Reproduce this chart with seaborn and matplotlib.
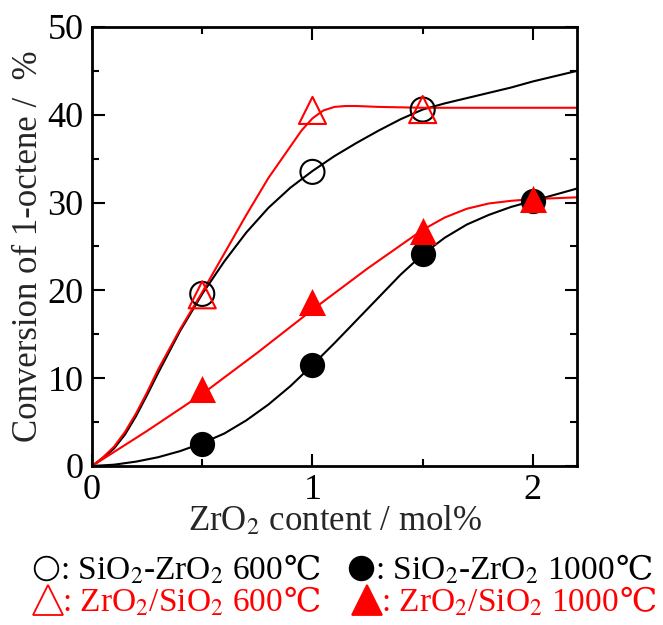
import numpy as np
import pandas as pd
import matplotlib
matplotlib.use("Agg")
import matplotlib.pyplot as plt
import seaborn as sns
from matplotlib.lines import Line2D
from matplotlib.ticker import MultipleLocator

# measured points
x_pts = [0.5, 1.0, 1.5, 2.0]
sz600 = [19.6, 33.5, 40.6, None]        # SiO2-ZrO2 600C (open circle)
sz1000 = [2.5, 11.5, 24.2, 30.2]        # SiO2-ZrO2 1000C (filled circle)
zs600 = [19.5, 40.5, 40.6, None]        # ZrO2/SiO2 600C (open triangle)
zs1000 = [8.8, 18.7, 26.8, 30.4]        # ZrO2/SiO2 1000C (filled triangle)

# fitted curves
sz600_cx = [0, 0.05, 0.1, 0.15, 0.2, 0.25, 0.3, 0.4, 0.5, 0.6, 0.7, 0.8, 0.9,
            1.0, 1.1, 1.2, 1.3, 1.4, 1.5, 1.6, 1.7, 1.8, 1.9, 2.0, 2.1, 2.2]
sz600_cy = [0, 0.9, 2.0, 3.6, 5.7, 8.1, 10.6, 15.4, 19.6, 23.3, 26.6, 29.4,
            31.7, 33.6, 35.3, 36.8, 38.2, 39.5, 40.6, 41.3, 41.9, 42.5, 43.1,
            43.8, 44.4, 45.0]
sz1000_cx = [0, 0.1, 0.2, 0.3, 0.4, 0.5, 0.6, 0.7, 0.8, 0.9, 1.0, 1.1, 1.2, 1.3,
             1.4, 1.5, 1.6, 1.7, 1.8, 1.9, 2.0, 2.1, 2.2]
sz1000_cy = [0, 0.15, 0.5, 1.0, 1.7, 2.6, 3.7, 5.2, 7.0, 9.1, 11.5, 14.0, 16.6,
             19.2, 21.8, 24.1, 26.0, 27.5, 28.6, 29.5, 30.2, 30.9, 31.6]
zs600_cx = [0, 0.05, 0.1, 0.15, 0.2, 0.25, 0.3, 0.4, 0.5, 0.6, 0.7, 0.8, 0.9,
            0.95, 1.0, 1.05, 1.1, 1.15, 1.2, 1.3, 1.5, 1.8, 2.2]
zs600_cy = [0, 1.0, 2.2, 3.9, 6.0, 8.4, 11.0, 15.6, 19.8, 24.2, 28.6, 32.8,
            36.4, 38.2, 39.6, 40.5, 40.9, 41.0, 41.0, 40.9, 40.8, 40.8, 40.8]
zs1000_cx = [0, 0.25, 0.5, 0.75, 1.0, 1.25, 1.5, 1.6, 1.7, 1.8, 1.9, 2.0, 2.2]
zs1000_cy = [0, 4.0, 8.2, 12.9, 17.8, 22.5, 26.9, 28.3, 29.3, 29.9, 30.2, 30.4,
             30.6]

# legend rows: formula, temperature
legend_labels = [
    ("SiO$_2$-ZrO$_2$", "600"),
    ("SiO$_2$-ZrO$_2$", "1000"),
    ("ZrO$_2$/SiO$_2$", "600"),
    ("ZrO$_2$/SiO$_2$", "1000"),
]

sns.set_style("ticks")
plt.rcParams["font.family"] = ["Liberation Serif", "DejaVu Serif"]
plt.rcParams["mathtext.fontset"] = "stix"

fig = plt.figure(figsize=(6.63, 6.25), dpi=100)
ax = fig.add_axes([0.1388, 0.2544, 0.7315, 0.7024])

# curves
curves = [
    (sz600_cx, sz600_cy, "black"),
    (sz1000_cx, sz1000_cy, "black"),
    (zs600_cx, zs600_cy, "red"),
    (zs1000_cx, zs1000_cy, "red"),
]
for cx, cy, col in curves:
    sns.lineplot(x=cx, y=cy, color=col, lw=1.5, ax=ax, sort=False,
                 estimator=None, zorder=2)

# markers
pts = pd.DataFrame({"x": x_pts, "sz600": sz600, "sz1000": sz1000,
                    "zs600": zs600, "zs1000": zs1000})
sns.scatterplot(data=pts, x="x", y="sz600", marker="o", s=300,
                facecolor="none", edgecolor="black", linewidth=1.5, ax=ax, zorder=3)
sns.scatterplot(data=pts, x="x", y="sz1000", marker="o", s=330,
                color="black", edgecolor="black", linewidth=0, ax=ax, zorder=3)
sns.scatterplot(data=pts, x="x", y="zs600", marker="^", s=380,
                facecolor="none", edgecolor="red", linewidth=1.5, ax=ax, zorder=4)
sns.scatterplot(data=pts, x="x", y="zs1000", marker="^", s=380,
                color="red", edgecolor="red", linewidth=0, ax=ax, zorder=4)

ax.set_xlim(0, 2.2)
ax.set_ylim(0, 50)
ax.xaxis.set_major_locator(MultipleLocator(1))
ax.xaxis.set_minor_locator(MultipleLocator(0.5))
ax.yaxis.set_major_locator(MultipleLocator(10))
ax.yaxis.set_minor_locator(MultipleLocator(5))
ax.tick_params(which="both", direction="in", top=True, right=True,
               width=1.5, labelsize=26, colors="black")
ax.tick_params(which="major", length=9, pad=6)
ax.tick_params(which="minor", length=5)
for sp in ax.spines.values():
    sp.set_linewidth(2)
    sp.set_color("black")

ax.set_xlabel("ZrO$_2$ content / mol%", fontsize=25, labelpad=-2)
ax.set_ylabel("Conversion of 1-octene /  %", fontsize=25, labelpad=2)

# legend below the axes: marker, then text pieces on a common baseline
fs = 24
renderer = fig.canvas.get_renderer()
W, H = fig.get_size_inches() * fig.dpi


def legend_entry(xc_px, base_px, marker, filled, col, formula, temp):
    fig.add_artist(Line2D([xc_px / W], [1 - (base_px - 11) / H],
                          transform=fig.transFigure, marker=marker,
                          markersize=17 if marker == "o" else 21,
                          markerfacecolor=col if filled else "none",
                          markeredgecolor=col, markeredgewidth=1.3,
                          linestyle="none"))
    x = (xc_px + 14) / W
    yb = 1 - base_px / H
    for piece in [": " + formula + " " + temp, "℃"]:
        t = fig.text(x, yb, piece, fontsize=fs, color=col, va="baseline")
        x = fig.transFigure.inverted().transform(
            (t.get_window_extent(renderer).x1 + 1, 0))[0]


styles = [(46, 579, "o", False, "black"), (361, 579, "o", True, "black"),
          (48, 611, "^", False, "red"), (367, 611, "^", True, "red")]
for (xc, yb, mk, fill, col), (formula, temp) in zip(styles, legend_labels):
    legend_entry(xc, yb, mk, fill, col, formula, temp)

fig.savefig("out.png", dpi=100)
